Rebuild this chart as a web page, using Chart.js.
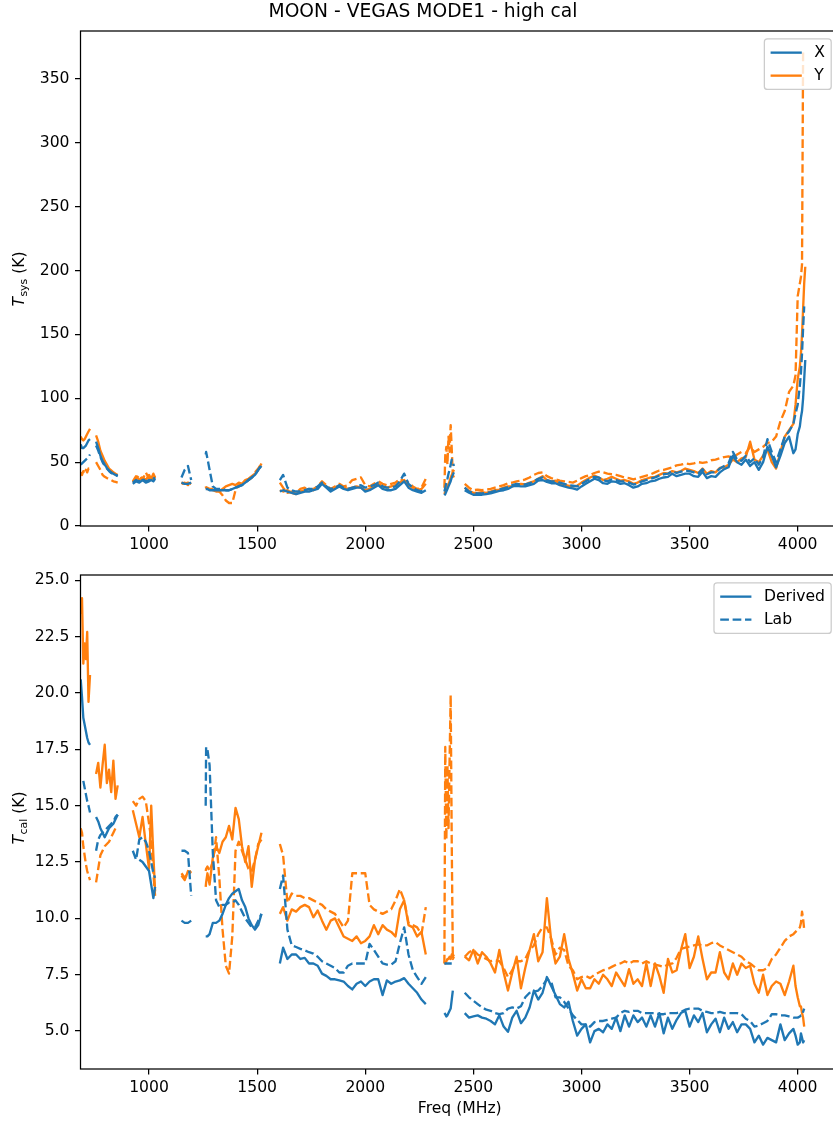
<!DOCTYPE html>
<html>
<head>
<meta charset="utf-8">
<script src="https://cdn.jsdelivr.net/npm/chart.js@4.4.1/dist/chart.umd.min.js"></script>
<style>
  html, body { margin: 0; padding: 0; background: #ffffff; width: 833px; height: 1122px; overflow: hidden; }
  .panel { position: absolute; left: 0; width: 850px; }
  #topPanel { top: 0; height: 560px; }
  #bottomPanel { top: 560px; height: 562px; }
</style>
</head>
<body>
<div class="panel" id="topPanel"><canvas id="tsysChart" width="850" height="560"></canvas></div>
<div class="panel" id="bottomPanel"><canvas id="tcalChart" width="850" height="562"></canvas></div>
<script>
// Frequency samples (MHz); a lone entry between bands is a break with no data.
const freq = [
  684, 690, 696, 702, 708, 714, 720, 727,
  740,
  755, 765, 775, 785, 795, 805, 815, 825, 835, 845, 855,
  890,
  925, 940, 955, 970, 985, 1000, 1010, 1020, 1028,
  1090,
  1150, 1165, 1180, 1195,
  1230,
  1262, 1264, 1270, 1280, 1295, 1310, 1325, 1340, 1355, 1370, 1385, 1400, 1415, 1430, 1445, 1460, 1475, 1490, 1505, 1520,
  1560,
  1605, 1620, 1640, 1660, 1680, 1700, 1720, 1740, 1760, 1780, 1800, 1820, 1840, 1860, 1880, 1900, 1920, 1940, 1960, 1980,
  2000, 2020, 2040, 2060, 2080, 2100, 2120, 2140, 2160, 2180, 2200, 2220, 2240, 2260, 2280,
  2320,
  2366, 2370, 2375, 2380, 2385, 2390, 2395, 2400, 2405, 2410,
  2435,
  2460, 2480, 2500, 2520, 2540, 2560, 2580, 2600, 2620, 2640, 2660, 2680, 2700,
  2720, 2740, 2760, 2780, 2800, 2820, 2840, 2860, 2880, 2900, 2920, 2940, 2960,
  2980, 3000, 3020, 3040, 3060, 3080, 3100, 3120, 3140, 3160, 3180, 3200, 3220,
  3240, 3260, 3280, 3300, 3320, 3340, 3360, 3380, 3400, 3420, 3440, 3460, 3480,
  3500, 3520, 3540, 3560, 3580, 3600, 3620, 3640, 3660, 3680, 3700, 3720, 3740,
  3760, 3780, 3800, 3820, 3840, 3860, 3880, 3900, 3920, 3940, 3960, 3980,
  3990, 4000, 4010, 4015, 4020, 4025, 4030, 4035
];

// System temperature (K), X polarisation, from derived Tcal
const tsysX = [
  64, 61, 61, 62, 63, 65, 67, 68,
  null,
  66, 61, 55, 51, 48, 45.5, 43.5, 42, 41, 40, 39.5,
  null,
  33, 35, 34, 36, 34, 35, 36, 35, 37,
  null,
  34, 33, 33, 34,
  null,
  29, 29, 29, 28, 28, 28, 28, 28, 28, 28, 29, 30, 31, 32, 34, 36, 38, 40, 44, 47,
  null,
  27, 28, 27, 26, 25, 26, 27, 27, 28, 29, 33, 30, 27, 29, 31, 29, 28, 29, 30, 30,
  27, 28, 30, 32, 29, 28, 28, 29, 32, 35, 30, 28, 27, 26, 28,
  null,
  24, 25, 27, 29, 31, 33, 35, 38, 40, 42,
  null,
  28, 26, 24.5, 24.5, 24.5, 25, 25.5, 26.5, 27.5, 28, 29, 31, 31.5,
  31, 31, 32, 33, 35.5, 36, 34.5, 33.5, 33.5, 32, 31, 30, 29.5,
  28.5, 31, 33, 35, 37, 36, 33.5, 33, 35, 34.5, 33, 33.5, 32,
  30, 31, 33, 33.5, 35, 35.5, 37, 38, 38.5, 41, 39, 40, 41,
  41, 39, 38.5, 42.5, 37.5, 39, 38.5, 42, 44.5, 46, 55, 50, 48,
  52, 47, 50, 44, 50, 62, 55, 46, 55, 65, 70, 57,
  60, 72, 78, 85, 90, 100, 115, 130
];

// System temperature (K), X polarisation, from lab Tcal
const tsysXLab = [
  48, 49, 50, 51, 52, 53, 54, 56,
  null,
  63, 59, 54, 50, 47, 45, 43, 41.5, 40.5, 40, 39,
  null,
  34, 36, 35, 37, 35, 36, 35, 37, 38,
  null,
  38, 44, 47, 36,
  null,
  56, 58, 53, 44, 31, 29, 29, 29, 28, 28, 29, 30, 31, 32, 34, 36, 38, 40, 44, 48,
  null,
  36, 40, 30, 28, 27, 27, 28, 29, 29, 31, 34, 31, 29, 30, 32, 30, 29, 30, 31, 32,
  30, 31, 32, 34, 31, 30, 30, 31, 35, 41, 33, 30, 28, 27, 29,
  null,
  27, 30, 34, 37, 41, 44, 48, 52, 50, 47,
  null,
  30, 27, 26, 25.5, 25.5, 26, 26.5, 27.5, 28.5, 29.5, 30.5, 32, 33,
  32.5, 32.5, 33.5, 35, 37, 38, 36, 35, 35, 34, 33, 32, 31.5,
  31, 33, 35, 37, 38.5, 38, 36, 35, 36.5, 36, 35, 35, 34,
  32.5, 33, 35, 36, 37, 38, 39.5, 40.5, 41, 43, 41.5, 42.5, 43.5,
  43, 42, 41, 44.5, 40.5, 42, 42, 45, 47, 49, 58, 52, 51,
  55, 50, 53, 48, 54, 68, 58, 50, 60, 70, 74, 80,
  88, 95, 110, 120, 135, 155, 172, null
];

// System temperature (K), Y polarisation, from derived Tcal
const tsysY = [
  70, 68, 67, 68, 70, 72, 74, 76,
  null,
  71, 66, 59, 55, 51, 48, 45, 43.5, 42, 41, 40,
  null,
  35, 39, 36, 38, 36, 40, 37, 41, 38,
  null,
  34, 33, 34, 33,
  null,
  30, 30, 29, 29, 28, 27, 27, 29, 31, 32, 33, 32, 34, 33, 36, 37, 39, 41, 44, 49,
  null,
  28, 27, 28, 26, 25, 27, 28, 29, 28, 30, 34, 31, 28, 30, 32, 30, 29, 30, 31, 30,
  28, 29, 31, 33, 31, 30, 31, 32, 34, 36, 32, 30, 28, 29, 33,
  null,
  25, 27, 29, 31, 33, 35, 38, 40, 42, 44,
  null,
  30, 27.5, 26, 26, 26.5, 26, 27, 28, 28.5, 30, 31, 31, 32.5,
  33, 32.5, 34, 35, 37, 39, 36, 35, 35.5, 33, 32.5, 31.5, 31,
  31.5, 34, 36, 38, 39.5, 38, 36, 37, 38.5, 37, 35.5, 36, 35,
  33, 34, 36, 37, 38, 38.5, 40, 41.5, 41, 43, 42, 43, 45,
  44, 43, 41.5, 45, 41, 43, 42, 45.5, 46, 48, 52, 50, 53,
  54, 66, 52, 50, 55, 60, 50, 45, 58, 70, 75, 80,
  95, 115, 125, 135, 150, 170, 190, 203
];

// System temperature (K), Y polarisation, from lab Tcal
const tsysYLab = [
  42, 40, 43, 41, 44, 42, 45, 44,
  null,
  50, 47, 44, 40, 38.5, 37.5, 37, 36, 35, 34.5, 34,
  null,
  34, 37, 40, 36, 42, 37, 40, 36, 39,
  null,
  33, 34, 32, 33,
  null,
  31, 30, 30, 29, 29, 28, 27, 24, 20, 18, 18, 28, 32, 33, 35, 36, 38, 42, 45, 49,
  null,
  34, 30, 26, 27, 26, 29, 30, 28, 29, 31, 35, 32, 29, 31, 33, 31, 32, 36, 37, 38,
  32, 31, 33, 35, 33, 32, 33, 34, 37, 35, 34, 31, 29, 30, 37,
  null,
  30, 55, 62, 48, 70, 58, 79, 60, 40, 38,
  null,
  33, 30, 28, 28.5, 28, 28.5, 29, 30, 31, 32, 33.5, 34, 35,
  35.5, 36.5, 38, 40, 41.5, 42, 39, 37.5, 36.5, 35.5, 35, 34.5, 34,
  35.5, 37.5, 39, 40, 41.5, 42.5, 42, 41, 40.5, 40, 39, 38, 37.5,
  36.5, 37.5, 38.5, 39.5, 40.5, 42, 43.5, 44, 45, 46, 47.5, 48, 49,
  48.5, 49, 50, 49.5, 50, 51.5, 52, 53, 54, 54.5, 53, 56, 58,
  57, 62, 58, 60, 62, 65, 66, 70, 82, 90, 105, 110,
  118, 180, 190, 195, 205, 372, null, null
];

// Noise-diode temperature (K), X polarisation, derived
const tcalX = [
  20.6, 19.8, 18.9, 18.6, 18.3, 18.0, 17.8, 17.7,
  null,
  14.5, 14.3, 14.0, 13.8, 13.6, 13.8, 14.0, 14.1, 14.2, 14.4, 14.6,
  null,
  null, null, 12.6, 12.5, 12.3, 12.1, 11.5, 10.9, 11.4,
  null,
  9.9, 9.8, 9.8, 9.9,
  null,
  9.2, 9.2, 9.2, 9.3, 9.8, 9.8, 9.9, 10.2, 10.6, 10.9, 11.1, 11.2, 11.3, 10.8, 10.5, 10.0, 9.7, 9.5, 9.7, 10.2,
  null,
  8.0, 8.7, 8.2, 8.4, 8.4, 8.2, 8.25, 8.0, 8.0, 7.9, 7.55, 7.45, 7.3, 7.3, 7.25, 7.2, 7.0, 6.85, 7.1, 7.2,
  7.0, 7.2, 7.3, 7.3, 6.6, 7.25, 7.1, 7.2, 7.25, 7.35, 7.1, 6.9, 6.7, 6.4, 6.2,
  null,
  5.8, 5.75, 5.65, 5.7, 5.8, 5.9, 6.0, 6.4, 6.8, null,
  null,
  5.8, 5.6, 5.65, 5.7, 5.6, 5.55, 5.45, 5.3, 5.7, 5.2, 4.97, 5.6, 5.9,
  5.35, 5.6, 6.05, 6.8, 6.4, 6.7, 7.4, 7.0, 6.6, 6.2, 6.05, 6.3, 5.45,
  4.8, 5.1, 5.3, 4.5, 5.0, 5.1, 4.95, 5.3, 5.1, 5.6, 5.0, 5.7, 5.2,
  5.7, 5.4, 5.6, 5.2, 5.7, 5.2, 5.8, 4.9, 5.6, 5.1, 5.5, 5.8, 5.9,
  5.2, 5.7, 5.4, 5.8, 4.95, 5.3, 5.55, 4.95, 5.6, 5.1, 5.4, 4.95, 5.3,
  5.3, 5.1, 4.5, 4.8, 4.4, 4.7, 4.6, 4.5, 5.3, 4.6, 4.9, 5.1,
  4.8, 4.4, 4.5, 4.9, 4.7, 4.5, 4.6, null
];

// Noise-diode temperature (K), X polarisation, lab values
const tcalXLab = [
  null, null, 16.1, 15.8, 15.5, 15.2, 15.0, 14.7,
  null,
  13.0, 13.5, 13.7, 13.8, 13.9, 14.0, 14.1, 14.2, 14.3, 14.5, 14.6,
  null,
  13.0, 12.6, 13.5, 13.6, 13.4, 13.0, 12.5, 12.0, 11.8,
  null,
  13.0, 13.0, 12.9, 11.0,
  null,
  15.0, 17.6, 17.5, 16.8, 12.9, 10.8, 10.5, 10.6, 10.6, 10.7, 10.7, 10.8, 10.6, 10.3, 10.0, 9.8, 9.6, 9.6, 9.9, 10.2,
  null,
  11.3, 11.9, 9.5, 8.8, 8.73, 8.65, 8.58, 8.5, 8.44, 8.3, 8.1, 8.0, 7.9, 7.8, 7.6, 7.6, 7.9, 8.0, 8.0, 8.0,
  8.0, 8.87, 8.6, 8.3, 8.0, 7.95, 7.95, 8.1, 8.9, 9.6, 8.4, 7.7, 7.4, 7.1, 7.4,
  null,
  8.0, 8.0, 8.0, 8.0, 8.0, 8.0, 8.0, 8.0, null, null,
  null,
  6.7, 6.5, 6.35, 6.2, 6.05, 5.95, 5.9, 5.8, 5.75, 5.8, 6.0, 6.05, 6.0,
  6.1, 6.5, 6.7, 6.75, 6.8, 7.0, 7.3, 7.2, 6.5, 6.5, 6.3, 6.0, 5.7,
  5.5, 5.3, 5.3, 5.2, 5.4, 5.45, 5.45, 5.5, 5.55, 5.6, 5.8, 5.9, 5.85,
  5.9, 5.9, 5.8, 5.8, 5.8, 5.8, 5.75, 5.75, 5.8, 5.8, 5.8, 5.85, 5.95,
  6.0, 6.0, 6.0, 5.9, 5.85, 5.8, 5.8, 5.85, 5.8, 5.8, 5.8, 5.8, 5.75,
  5.55, 5.45, 5.2, 5.25, 5.35, 5.45, 5.75, 5.75, 5.7, 5.7, 5.65, 5.6,
  5.6, 5.6, 5.65, 5.7, 5.7, 5.85, 6.0, null
];

// Noise-diode temperature (K), Y polarisation, derived
const tcalY = [
  23.5, 24.2, 21.3, 22.2, 21.5, 22.7, 19.6, 20.8,
  null,
  16.4, 16.9, 15.8, 16.8, 17.7, 16.0, 16.6, 15.6, 17.0, 15.3, 15.9,
  null,
  14.8, 14.2, 13.6, 14.5, 13.3, 12.2, 15.0, 12.8, 11.2,
  null,
  11.9, 11.7, 12.1, 12.0,
  null,
  11.4, 11.6, 12.0, 11.5, 12.7, 13.2, 12.9, 13.4, 13.6, 14.1, 13.5, 14.9, 14.4, 13.2, 12.5, 13.2, 11.4, 12.6, 13.2, 13.8,
  null,
  10.2, 10.5, 9.9, 10.4, 10.3, 10.5, 10.6, 10.5, 10.05, 10.35, 9.9, 9.5, 9.9, 10.0, 9.6, 9.2, 9.1, 9.0, 9.2, 8.9,
  9.0, 9.2, 9.7, 9.3, 9.7, 9.5, 9.4, 9.2, 10.4, 10.8, 9.7, 9.6, 9.2, 9.4, 8.4,
  null,
  8.1, 8.0, 8.1, 8.2, 8.2, 8.3, 8.2, 8.4, 8.3, 8.4,
  null,
  8.3, 8.14, 8.6, 8.0, 8.5, 8.3, 8.0, 7.6, 8.6, 7.6, 6.8, 7.6, 8.3,
  6.9, 7.8, 8.6, 9.3, 8.1, 8.5, 10.9, 9.0, 8.0, 8.3, 9.3, 8.2, 7.55,
  6.8, 7.3, 6.9, 6.9, 7.3, 7.1, 7.5, 7.3, 7.0, 7.6, 7.3, 7.0, 7.75,
  7.1, 7.3, 7.0, 8.0, 7.0, 8.0, 7.45, 6.7, 8.2, 7.6, 7.7, 8.6, 9.3,
  7.8, 8.3, 9.2, 8.2, 7.3, 7.6, 7.6, 8.5, 7.6, 7.3, 8.0, 7.5, 8.0,
  7.8, 7.9, 7.1, 6.7, 7.5, 6.6, 7.0, 7.2, 7.1, 6.6, 7.2, 7.9,
  7.0, 6.5, 6.1, 6.1, 5.8, 5.6, 5.2, null
];

// Noise-diode temperature (K), Y polarisation, lab values
const tcalYLab = [
  14.0, 13.8, 13.2, 12.8, 12.4, 12.1, 11.9, 11.7,
  null,
  11.6, 12.2, 12.8, 13.0, 13.2, 13.3, 13.4, 13.6, 13.8, 14.0, 14.1,
  null,
  15.2, 15.0, 15.3, 15.4, 15.2, 14.2, 13.5, 12.0, 11.0,
  null,
  12.0, 11.8, 12.0, 12.1,
  null,
  12.1, 12.2, 12.3, 12.1, 12.5, 13.6, 11.8, 9.5, 7.9, 7.55, 9.2, 13.0, 13.4, 13.0, 12.6, 12.2, 12.1, 12.6, 13.3, 13.5,
  null,
  13.3, 12.8, 10.7, 11.1, 11.0, 11.0, 10.9, 10.9, 10.8, 10.7, 10.6, 10.4, 10.3, 10.2, 9.9, 9.6, 9.9, 12.0, 12.0, 12.0,
  12.0, 10.6, 10.4, 10.3, 10.2, 10.3, 10.4, 10.8, 11.3, 10.8, 9.8, 9.7, 9.6, 9.3, 10.5,
  null,
  8.0, 17.6, 13.5, 16.8, 14.0, 17.0, 19.9, 13.3, 8.2, 8.3,
  null,
  8.3, 8.5, 8.6, 8.4, 8.3, 8.2, 8.1, 8.14, 8.1, 7.8, 7.4, 7.7, 8.1,
  8.1, 8.2, 8.6, 8.8, 9.3, 9.6, 9.6, 9.1, 8.4, 8.7, 8.6, 7.9, 7.7,
  7.3, 7.4, 7.45, 7.35, 7.5, 7.6, 7.7, 7.75, 7.85, 7.95, 8.0, 8.1, 8.0,
  8.1, 8.1, 8.0, 8.1, 8.0, 7.95, 7.9, 7.85, 7.95, 8.0, 8.25, 8.65, 8.7,
  8.75, 8.8, 8.85, 8.8, 8.8, 8.9, 8.95, 8.8, 8.7, 8.6, 8.5, 8.4, 8.3,
  8.1, 8.0, 7.85, 7.7, 7.7, 7.8, 8.2, 8.4, 8.7, 9.0, 9.2, 9.3,
  9.4, 9.5, 9.6, 9.8, 10.3, 10.0, 9.5, null
];

// Axis ticks
const freqTicks = [1000, 1500, 2000, 2500, 3000, 3500, 4000];
const tsysTicks = [0, 50, 100, 150, 200, 250, 300, 350];
const tcalTicks = [5.0, 7.5, 10.0, 12.5, 15.0, 17.5, 20.0, 22.5, 25.0];

// ---- styling ----
const FONT = '"DejaVu Sans"';
const FS = 15.6;            // tick / label font size (px)
const LW = 2.34;            // line width (px)
const DASH = [8.7, 3.7];
const BLUE = '#1f77b4';
const ORANGE = '#ff7f0e';
const SPINE = 1.25;

Chart.defaults.font.family = 'DejaVu Sans';
Chart.defaults.font.size = FS;
Chart.defaults.color = '#000000';

function line(values, color, dashed) {
  return {
    data: freq.map((f, i) => ({ x: f, y: values[i] })),
    borderColor: color,
    backgroundColor: color,
    borderWidth: LW,
    borderDash: dashed ? DASH : [],
    borderJoinStyle: 'round',
    pointRadius: 0,
    pointHoverRadius: 0,
    fill: false,
    tension: 0,
    spanGaps: false
  };
}

function xScale(height) {
  return {
    type: 'linear',
    position: 'bottom',
    min: 683,
    max: 4191,
    afterBuildTicks: s => { s.ticks = freqTicks.map(v => ({ value: v })); },
    afterFit: s => { s.height = height; },
    ticks: { autoSkip: false, maxRotation: 0, padding: 4.5, color: '#000', font: { size: FS }, callback: v => String(v) },
    grid: { drawOnChartArea: false, drawTicks: true, tickLength: 5.5, color: '#000', lineWidth: SPINE },
    border: { display: false }
  };
}

function yScale(min, max, tickVals, fmt) {
  return {
    type: 'linear',
    position: 'left',
    min: min,
    max: max,
    afterBuildTicks: s => { s.ticks = tickVals.map(v => ({ value: v })); },
    afterFit: s => { s.width = 80.5; },
    ticks: { autoSkip: false, padding: 5.5, color: '#000', font: { size: FS }, callback: fmt },
    grid: { drawOnChartArea: false, drawTicks: true, tickLength: 5.5, color: '#000', lineWidth: SPINE },
    border: { display: false }
  };
}

function drawLegend(ctx, area, entries) {
  const pad = 0.4 * FS, handle = 2 * FS, textPad = 0.8 * FS, spacing = 0.5 * FS, axPad = 0.5 * FS, rowH = 15.2;
  ctx.font = FS + 'px ' + FONT;
  const tw = Math.max.apply(null, entries.map(e => ctx.measureText(e.label).width));
  const w = 2 * pad + handle + textPad + tw;
  const h = 2 * pad + entries.length * rowH + (entries.length - 1) * spacing;
  const right = area.right - axPad, top = area.top + axPad, left = right - w;
  ctx.beginPath();
  if (ctx.roundRect) ctx.roundRect(left, top, w, h, 3.1); else ctx.rect(left, top, w, h);
  ctx.fillStyle = 'rgba(255,255,255,0.8)';
  ctx.fill();
  ctx.lineWidth = SPINE;
  ctx.strokeStyle = '#cccccc';
  ctx.setLineDash([]);
  ctx.stroke();
  entries.forEach((e, i) => {
    const y = top + pad + rowH / 2 + i * (rowH + spacing);
    ctx.beginPath();
    ctx.setLineDash(e.dashed ? DASH : []);
    ctx.strokeStyle = e.color;
    ctx.lineWidth = LW;
    ctx.moveTo(left + pad, y);
    ctx.lineTo(left + pad + handle, y);
    ctx.stroke();
    ctx.setLineDash([]);
    ctx.fillStyle = '#000';
    ctx.textAlign = 'left';
    ctx.textBaseline = 'middle';
    ctx.fillText(e.label, left + pad + handle + textPad, y + 0.5);
  });
}

function drawYLabel(ctx, sub, cx, cy) {
  ctx.save();
  ctx.translate(cx, cy);
  ctx.rotate(-Math.PI / 2);
  ctx.fillStyle = '#000';
  ctx.textAlign = 'left';
  ctx.textBaseline = 'alphabetic';
  const italic = 'italic ' + FS + 'px ' + FONT, small = (FS * 0.7).toFixed(1) + 'px ' + FONT, normal = FS + 'px ' + FONT;
  ctx.font = italic; const wT = ctx.measureText('T').width + 0.5;
  ctx.font = small; const wS = ctx.measureText(sub).width;
  ctx.font = normal; const wK = ctx.measureText(' (K)').width;
  let x = -(wT + wS + wK) / 2;
  const base = 4;
  ctx.font = italic; ctx.fillText('T', x, base); x += wT;
  ctx.font = small; ctx.fillText(sub, x, base + 3.5); x += wS;
  ctx.font = normal; ctx.fillText(' (K)', x, base);
  ctx.restore();
}

function decor(opts) {
  return {
    id: 'decor',
    afterDraw(chart) {
      const ctx = chart.ctx, a = chart.chartArea;
      ctx.save();
      ctx.setLineDash([]);
      ctx.strokeStyle = '#000';
      ctx.lineWidth = SPINE;
      ctx.strokeRect(a.left, a.top, a.right - a.left, a.bottom - a.top);
      drawLegend(ctx, a, opts.legend);
      drawYLabel(ctx, opts.sub, 19.5, opts.yLabelY);
      ctx.fillStyle = '#000';
      if (opts.title) {
        ctx.font = '18.7px ' + FONT;
        ctx.textAlign = 'center';
        ctx.textBaseline = 'middle';
        ctx.fillText(opts.title, 423, 12);
      }
      if (opts.xLabel) {
        ctx.font = FS + 'px ' + FONT;
        ctx.textAlign = 'center';
        ctx.textBaseline = 'middle';
        ctx.fillText(opts.xLabel, (a.left + a.right) / 2, 549);
      }
      ctx.restore();
    }
  };
}

const common = {
  responsive: false,
  animation: false,
  devicePixelRatio: 1,
  events: [],
  plugins: { legend: { display: false }, tooltip: { enabled: false } }
};

new Chart(document.getElementById('tsysChart'), {
  type: 'line',
  data: {
    datasets: [
      line(tsysX, BLUE, false),
      line(tsysXLab, BLUE, true),
      line(tsysY, ORANGE, false),
      line(tsysYLab, ORANGE, true)
    ]
  },
  options: Object.assign({}, common, {
    layout: { padding: { left: 0, top: 31, right: 11, bottom: 0 } },
    scales: {
      x: xScale(34),
      y: yScale(0, 387.6, tsysTicks, v => String(v))
    }
  }),
  plugins: [decor({
    title: 'MOON - VEGAS MODE1 - high cal',
    sub: 'sys',
    yLabelY: 279,
    legend: [
      { label: 'X', color: BLUE, dashed: false },
      { label: 'Y', color: ORANGE, dashed: false }
    ]
  })]
});

new Chart(document.getElementById('tcalChart'), {
  type: 'line',
  data: {
    datasets: [
      line(tcalX, BLUE, false),
      line(tcalXLab, BLUE, true),
      line(tcalY, ORANGE, false),
      line(tcalYLab, ORANGE, true)
    ]
  },
  options: Object.assign({}, common, {
    layout: { padding: { left: 0, top: 15, right: 11, bottom: 0 } },
    scales: {
      x: xScale(53),
      y: yScale(3.32, 25.23, tcalTicks, v => Number(v).toFixed(1))
    }
  }),
  plugins: [decor({
    sub: 'cal',
    xLabel: 'Freq (MHz)',
    yLabelY: 258,
    legend: [
      { label: 'Derived', color: BLUE, dashed: false },
      { label: 'Lab', color: BLUE, dashed: true }
    ]
  })]
});
</script>
</body>
</html>
